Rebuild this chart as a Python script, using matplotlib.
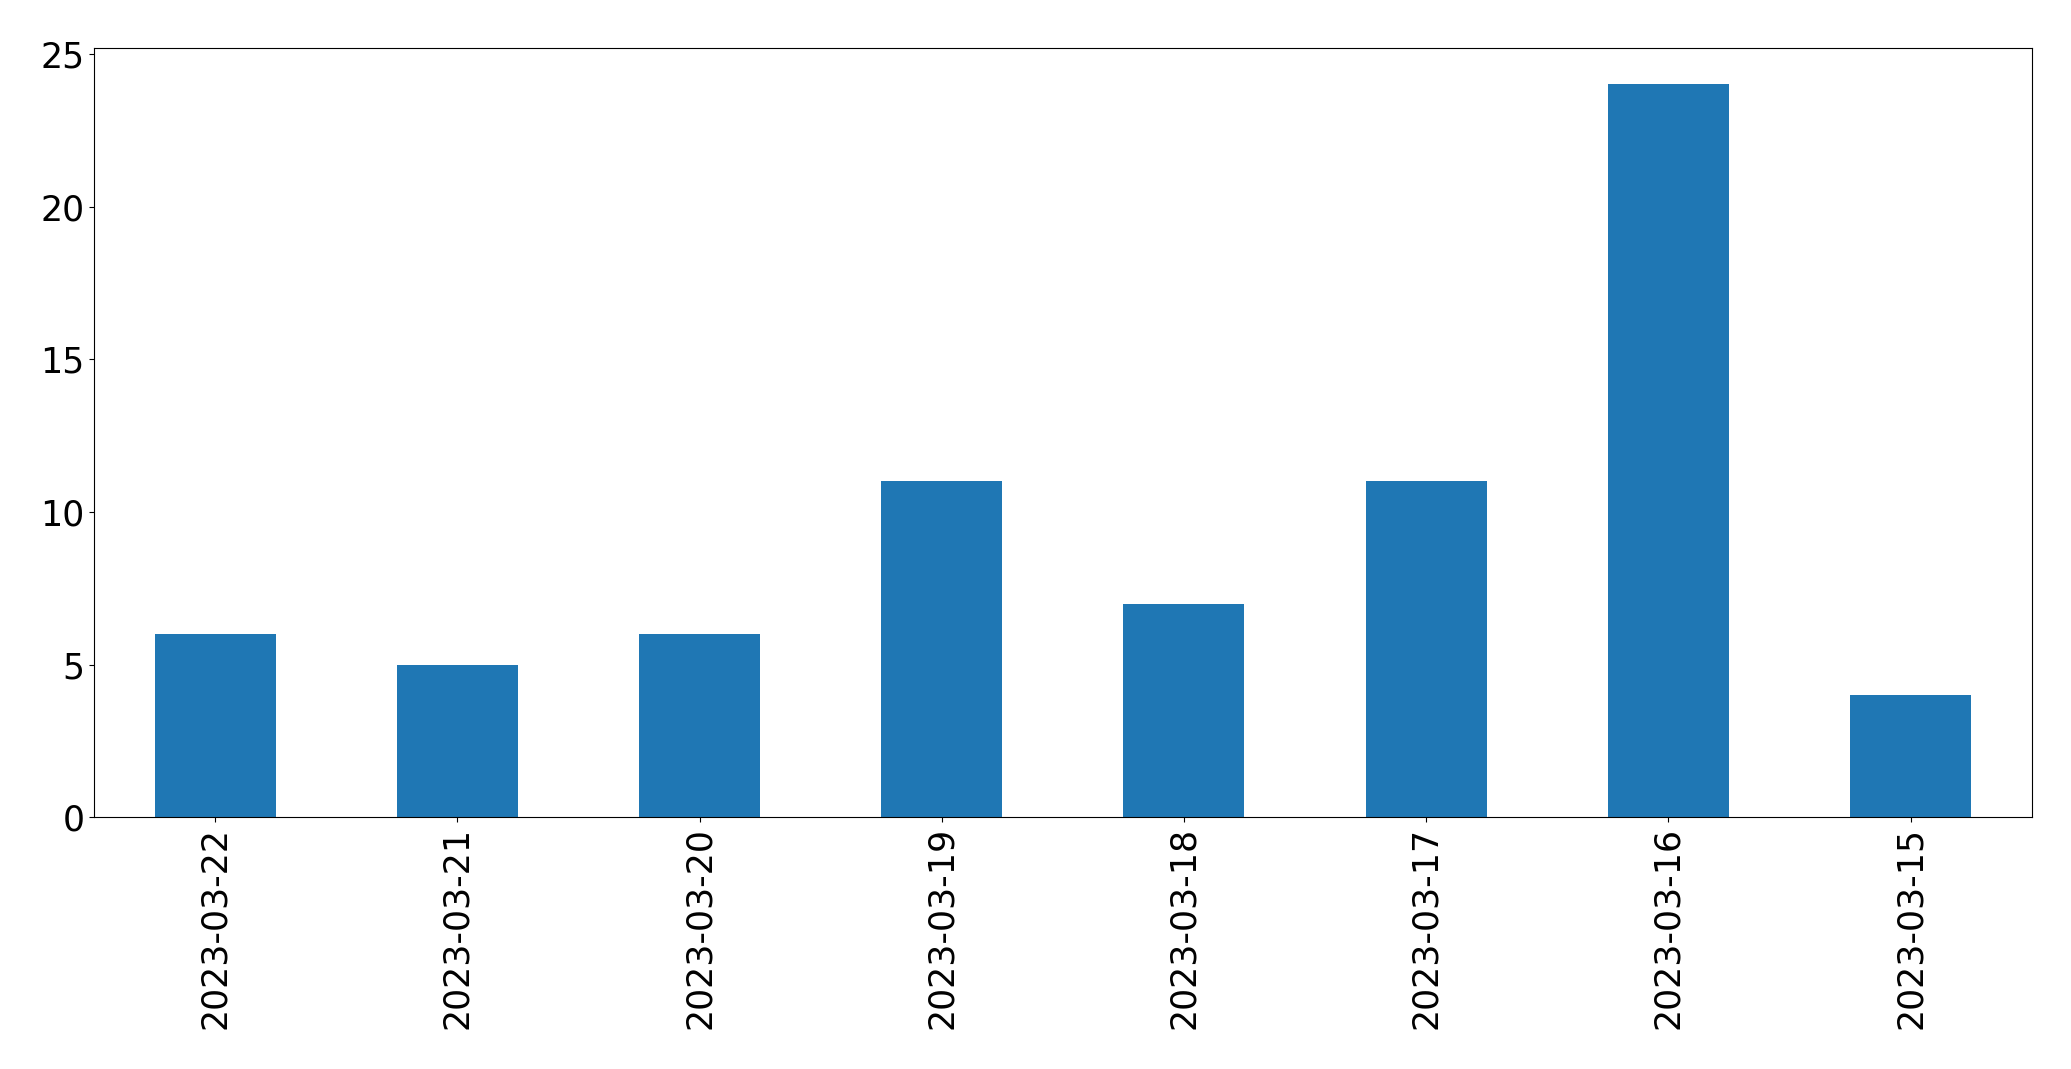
import matplotlib
matplotlib.use('Agg')
import matplotlib.pyplot as plt
import pandas as pd

dates = ['2023-03-22', '2023-03-21', '2023-03-20', '2023-03-19',
         '2023-03-18', '2023-03-17', '2023-03-16', '2023-03-15']
counts = [6, 5, 6, 11, 7, 11, 24, 4]

s = pd.Series(counts, index=dates)

fig = plt.figure(figsize=(20.71, 10.69), dpi=100)
ax = fig.add_axes([0.0454, 0.2354, 0.9356, 0.72])
s.plot(kind='bar', ax=ax, color='#1f77b4')
ax.tick_params(labelsize=25)
for lbl in ax.get_xticklabels():
    lbl.set_rotation(90)

fig.savefig('out.png', dpi=100)
